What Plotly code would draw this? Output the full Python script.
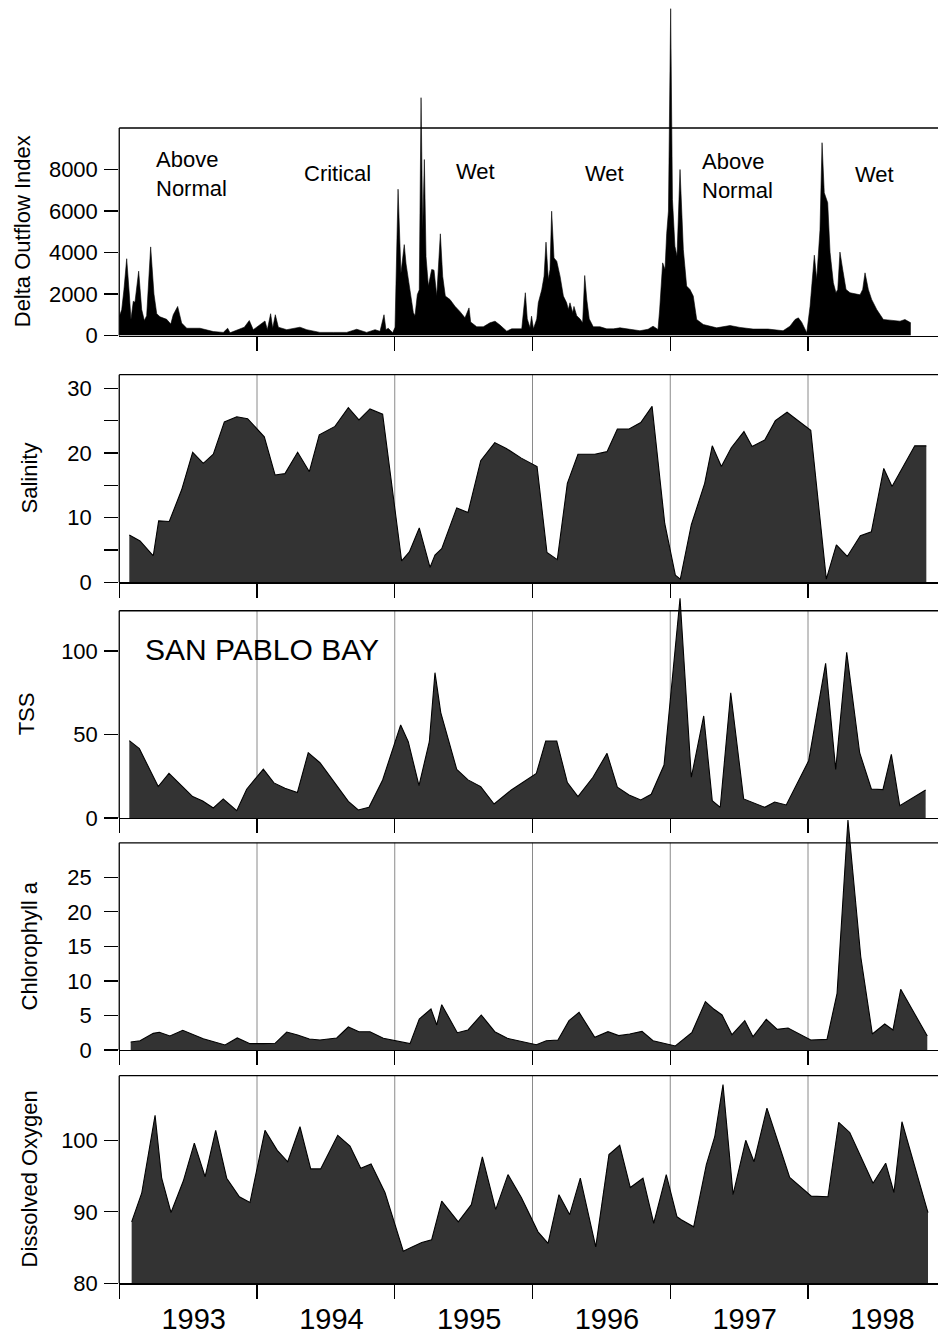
import plotly.graph_objects as go

# ---------------- data ----------------
outflow_year = [
    1993.000, 1993.018, 1993.034, 1993.054, 1993.073, 1993.085, 1993.102, 1993.114, 1993.141, 1993.163,
    1993.182, 1993.199, 1993.228, 1993.252, 1993.272, 1993.296, 1993.344, 1993.374, 1993.392, 1993.424,
    1993.453, 1993.490, 1993.586, 1993.683, 1993.755, 1993.787, 1993.804, 1993.864, 1993.908, 1993.944,
    1993.973,
    1994.058, 1994.075, 1994.099, 1994.114, 1994.133, 1994.155, 1994.216, 1994.312, 1994.361, 1994.457,
    1994.554, 1994.651, 1994.724, 1994.796, 1994.857, 1994.893, 1994.922, 1994.936, 1994.953, 1994.985,
    1995.002, 1995.024, 1995.045, 1995.069, 1995.082, 1995.111, 1995.135, 1995.147, 1995.164, 1995.178,
    1995.191, 1995.203, 1995.215, 1995.227, 1995.244, 1995.268, 1995.285, 1995.305, 1995.331, 1995.348,
    1995.367, 1995.401, 1995.437, 1995.474, 1995.510, 1995.539, 1995.551, 1995.595, 1995.643, 1995.691,
    1995.728, 1995.764, 1995.813, 1995.849, 1995.922, 1995.948, 1995.962, 1995.982, 1995.993,
    1996.007, 1996.031, 1996.042, 1996.067, 1996.084, 1996.098, 1996.115, 1996.127, 1996.139, 1996.156,
    1996.176, 1996.200, 1996.224, 1996.248, 1996.260, 1996.272, 1996.292, 1996.301, 1996.321, 1996.345,
    1996.364, 1996.379, 1996.394, 1996.412, 1996.441, 1996.490, 1996.539, 1996.587, 1996.635, 1996.708,
    1996.780, 1996.839, 1996.875, 1996.911, 1996.923, 1996.945, 1996.962, 1996.974, 1996.987,
    1997.003, 1997.016, 1997.034, 1997.049, 1997.071, 1997.095, 1997.119, 1997.143, 1997.167, 1997.192,
    1997.240, 1997.301, 1997.337, 1997.434, 1997.506, 1997.601, 1997.710, 1997.819, 1997.869, 1997.906,
    1997.930, 1997.954, 1997.966, 1997.991,
    1998.015, 1998.046, 1998.063, 1998.087, 1998.102, 1998.118, 1998.143, 1998.160, 1998.184, 1998.203,
    1998.216, 1998.232, 1998.252, 1998.276, 1998.305, 1998.341, 1998.378, 1998.397, 1998.414, 1998.438,
    1998.462, 1998.499, 1998.547, 1998.595, 1998.668, 1998.704, 1998.746,
]
outflow_index = [
    900, 1250, 2200, 3700, 2000, 770, 1650, 1600, 3100, 1250,
    720, 950, 4270, 2000, 1050, 900, 780, 550, 1000, 1400,
    600, 350, 350, 190, 150, 350, 130, 280, 400, 720,
    280,
    700, 280, 1050, 350, 1000, 400, 280, 400, 280, 150,
    150, 150, 300, 150, 280, 200, 1000, 280, 350, 130,
    400, 7050, 3000, 4380, 3450, 2200, 1100, 950, 1970, 2200,
    11460, 5100, 8480, 3800, 2380, 3180, 3150, 1900, 4900, 2850,
    1900, 1735, 1410, 1150, 850, 1330, 650, 420, 420, 610,
    690, 500, 210, 320, 320, 2060, 800, 370, 930,
    320, 800, 1575, 2200, 2860, 4500, 2700, 3180, 5990, 3740,
    3580, 2860, 1900, 1575, 1250, 1575, 1100, 1400, 950, 800,
    610, 2890, 1740, 800, 420, 420, 320, 320, 370, 310,
    230, 300, 450, 290, 1230, 3500, 3180, 4900, 6000,
    15750, 6550, 4300, 3820, 8000, 4140, 2380, 2220, 1900, 770,
    530, 450, 370, 480, 390, 310, 310, 230, 450, 770,
    850, 640, 450, 130,
    1410, 3870, 2700, 5080, 9290, 6880, 6400, 4010, 2540, 2060,
    2220, 4020, 3180, 2220, 2060, 2000, 1960, 2220, 3020, 2220,
    1740, 1250, 770, 740, 690, 770, 610,
]

salinity_year = [
    1993.073, 1993.151, 1993.247, 1993.286, 1993.363, 1993.453, 1993.533, 1993.610, 1993.683, 1993.763, 1993.853, 1993.932,
    1994.053, 1994.131, 1994.203, 1994.295, 1994.380, 1994.452, 1994.566, 1994.663, 1994.740, 1994.820, 1994.912,
    1995.050, 1995.106, 1995.178, 1995.256, 1995.292, 1995.341, 1995.450, 1995.532, 1995.624, 1995.726, 1995.810, 1995.919,
    1996.033, 1996.105, 1996.180, 1996.253, 1996.330, 1996.452, 1996.541, 1996.616, 1996.701, 1996.786, 1996.868, 1996.960,
    1997.037, 1997.073, 1997.153, 1997.250, 1997.305, 1997.371, 1997.443, 1997.535, 1997.594, 1997.686, 1997.763, 1997.848,
    1998.020, 1998.133, 1998.206, 1998.285, 1998.380, 1998.460, 1998.550, 1998.610, 1998.775, 1998.859,
]
salinity = [
    7.3, 6.4, 4.1, 9.5, 9.4, 14.3, 20.1, 18.4, 19.8, 24.8, 25.6, 25.3,
    22.5, 16.6, 16.8, 20.1, 17.1, 22.8, 24.1, 27.0, 25.1, 26.8, 26.0,
    3.3, 4.7, 8.4, 2.3, 4.2, 5.2, 11.5, 10.8, 18.8, 21.6, 20.7, 19.2,
    17.9, 4.6, 3.5, 15.3, 19.8, 19.8, 20.2, 23.7, 23.7, 24.7, 27.2, 9.1,
    1.1, 0.5, 8.9, 15.3, 21.1, 17.9, 20.8, 23.3, 21.0, 22.0, 25.0, 26.3,
    23.5, 0.5, 5.8, 4.0, 7.2, 7.8, 17.6, 14.8, 21.1, 21.1,
]

tss_year = [
    1993.073, 1993.146, 1993.283, 1993.361, 1993.533, 1993.606, 1993.683, 1993.755, 1993.853, 1993.925,
    1994.046, 1994.123, 1994.203, 1994.293, 1994.372, 1994.457, 1994.663, 1994.735, 1994.813, 1994.912,
    1995.043, 1995.098, 1995.176, 1995.251, 1995.292, 1995.334, 1995.450, 1995.532, 1995.624, 1995.721, 1995.846,
    1996.028, 1996.096, 1996.176, 1996.253, 1996.330, 1996.439, 1996.541, 1996.616, 1996.701, 1996.786, 1996.862, 1996.955,
    1997.071, 1997.153, 1997.243, 1997.305, 1997.363, 1997.439, 1997.533, 1997.686, 1997.758, 1997.842,
    1998.005, 1998.128, 1998.201, 1998.281, 1998.375, 1998.460, 1998.544, 1998.605, 1998.666, 1998.854,
]
tss = [
    46.3, 41.5, 18.8, 26.7, 12.8, 10.2, 6.0, 11.4, 4.4, 17.2,
    29.3, 21.0, 17.8, 15.2, 39.1, 33.1, 10.0, 4.8, 6.4, 22.8,
    55.7, 45.7, 19.4, 45.7, 87.0, 63.1, 29.1, 22.8, 18.8, 8.4, 16.8,
    26.7, 46.1, 46.1, 21.2, 12.8, 24.4, 38.7, 18.4, 13.8, 10.8, 14.2, 31.7,
    131.5, 24.4, 61.1, 10.4, 6.4, 75.0, 11.4, 6.4, 9.6, 7.8,
    34.3, 92.6, 29.1, 99.2, 39.1, 17.4, 17.0, 38.1, 7.4, 16.8,
]

chl_year = [
    1993.083, 1993.151, 1993.247, 1993.291, 1993.368, 1993.461, 1993.610, 1993.768, 1993.857, 1993.949,
    1994.046, 1994.131, 1994.216, 1994.295, 1994.380, 1994.457, 1994.579, 1994.663, 1994.740, 1994.820, 1994.917,
    1995.014, 1995.111, 1995.178, 1995.263, 1995.305, 1995.341, 1995.454, 1995.532, 1995.628, 1995.726, 1995.817,
    1996.028, 1996.100, 1996.185, 1996.265, 1996.338, 1996.452, 1996.548, 1996.626, 1996.706, 1996.795, 1996.875,
    1997.037, 1997.158, 1997.255, 1997.318, 1997.376, 1997.448, 1997.541, 1997.601, 1997.697, 1997.777, 1997.855,
    1998.020, 1998.138, 1998.211, 1998.290, 1998.383, 1998.467, 1998.557, 1998.617, 1998.673, 1998.866,
]
chlorophyll = [
    1.16, 1.35, 2.41, 2.56, 2.03, 2.85, 1.64, 0.72, 1.74, 0.92,
    0.92, 0.97, 2.6, 2.17, 1.59, 1.45, 1.74, 3.33, 2.65, 2.65, 1.69,
    1.35, 0.92, 4.49, 5.94, 3.62, 6.56, 2.51, 2.9, 5.07, 2.65, 1.69,
    0.77, 1.35, 1.45, 4.25, 5.45, 1.83, 2.65, 2.08, 2.32, 2.7, 1.35,
    0.58, 2.56, 7.0, 5.89, 5.07, 2.22, 4.25, 1.93, 4.44, 2.99, 3.19,
    1.45, 1.54, 8.2, 33.3, 13.5, 2.32, 3.76, 2.9, 8.78, 2.03,
]

do_year = [
    1993.090, 1993.163, 1993.260, 1993.308, 1993.376, 1993.465, 1993.545, 1993.623, 1993.700, 1993.780, 1993.872, 1993.949,
    1994.058, 1994.147, 1994.223, 1994.312, 1994.390, 1994.462, 1994.586, 1994.675, 1994.753, 1994.828, 1994.929,
    1995.062, 1995.118, 1995.196, 1995.268, 1995.341, 1995.461, 1995.556, 1995.636, 1995.733, 1995.822, 1995.919,
    1996.040, 1996.113, 1996.192, 1996.270, 1996.347, 1996.459, 1996.555, 1996.633, 1996.710, 1996.802, 1996.880, 1996.971,
    1997.049, 1997.080, 1997.170, 1997.262, 1997.323, 1997.383, 1997.456, 1997.548, 1997.608, 1997.702, 1997.782, 1997.867,
    1998.024, 1998.145, 1998.223, 1998.303, 1998.472, 1998.564, 1998.624, 1998.682, 1998.871,
]
dissolved_oxygen = [
    88.6, 92.6, 103.5, 94.7, 89.9, 94.3, 99.6, 94.9, 101.4, 94.7, 92.1, 91.3,
    101.4, 98.6, 97.0, 101.9, 96.0, 96.0, 100.7, 99.2, 96.1, 96.7, 92.7,
    84.5, 85.0, 85.7, 86.1, 91.5, 88.6, 91.0, 97.7, 90.3, 95.2, 92.0,
    87.2, 85.6, 92.4, 89.6, 94.7, 85.1, 98.0, 99.3, 93.4, 94.7, 88.4, 95.2,
    89.3, 88.9, 87.9, 96.6, 100.5, 107.8, 92.4, 100.0, 97.0, 104.5, 99.8, 94.8,
    92.2, 92.1, 102.5, 101.1, 94.0, 96.8, 92.7, 102.6, 89.9,
]

years = [1993, 1994, 1995, 1996, 1997, 1998]
year_labels = ["1993", "1994", "1995", "1996", "1997", "1998"]

# water-year classification labels in the outflow panel (text, left x in years, y in outflow units)
wy_text = ["Above<br>Normal", "Critical", "Wet", "Wet", "Above<br>Normal", "Wet"]
wy_x = [1993.252, 1994.327, 1995.430, 1996.367, 1997.216, 1998.327]
wy_y = [7780, 7830, 7880, 7830, 7690, 7735]

for a, b in [(outflow_year, outflow_index), (salinity_year, salinity), (tss_year, tss),
             (chl_year, chlorophyll), (do_year, dissolved_oxygen)]:
    assert len(a) == len(b), (len(a), len(b))

# ---------------- layout ----------------
# the page body margin is removed (post_script), so the figure fills the window exactly
OFF = 0
W, H = 938, 1335
FONT = "Liberation Sans, Arial, Helvetica, sans-serif"
LW = 1.3


def px_x(px):
    return (px - OFF) / W


def dom(py_bottom, py_top):
    return [1 - (py_bottom - OFF) / H, min(1.0, 1 - (py_top - OFF) / H)]


XDOM = [px_x(119.25), 1.0]
XR = [1993.0, 1993.0 + (938 - 119.25) / 137.75]

panels = [
    dict(x=outflow_year, y=outflow_index, dom=dom(335.5, 3), rng=[0, (335.5 - 3) / 0.02075], top=10000,
         yt=[0, 2000, 4000, 6000, 8000], minor=None, fill="#000000", lw=0.6,
         title="Delta Outflow Index", tx=22.5, standoff=2, xt=years[1:], grid=False),
    dict(x=salinity_year, y=salinity, dom=dom(582.3, 374.7), rng=[0, 32.1], top=32.1,
         yt=[0, 10, 20, 30], minor=[5, 15, 25], fill="#333333", lw=1.1,
         title="Salinity", tx=29, standoff=8, xt=years, grid=True),
    dict(x=tss_year, y=tss, dom=dom(818, 594.2), rng=[0, 134], top=124.1,
         yt=[0, 50, 100], minor=None, fill="#333333", lw=1.1,
         title="TSS", tx=26, standoff=2, xt=years, grid=True),
    dict(x=chl_year, y=chlorophyll, dom=dom(1050, 818.6), rng=[0, 33.5], top=30,
         yt=[0, 5, 10, 15, 20, 25], minor=None, fill="#333333", lw=1.1,
         title="Chlorophyll a", tx=29, standoff=8, xt=years, grid=True),
    dict(x=do_year, y=dissolved_oxygen, dom=dom(1283.3, 1075.7), rng=[80, 109.04], top=109.04,
         yt=[80, 90, 100], minor=None, fill="#333333", lw=1.1,
         title="Dissolved Oxygen", tx=29, standoff=2, xt=years, grid=True),
]


def to_paper(d, rng, v):
    return d[0] + (v - rng[0]) / (rng[1] - rng[0]) * (d[1] - d[0])


fig = go.Figure()
layout = dict(
    width=W, height=H, autosize=False,
    margin=dict(l=0, r=0, t=0, b=0, pad=0),
    paper_bgcolor="white", plot_bgcolor="rgba(0,0,0,0)",
    font=dict(family=FONT, color="black", size=22),
    showlegend=False, template="none",
)
shapes = []
annotations = []

for i, p in enumerate(panels, start=1):
    sx = "" if i == 1 else str(i)
    xname, yname = "x" + sx, "y" + sx
    fig.add_trace(go.Scatter(
        x=p["x"], y=p["y"], xaxis=xname, yaxis=yname, mode="lines",
        line=dict(color="black", width=p["lw"]), fill="tozeroy", fillcolor=p["fill"],
        hoverinfo="skip",
    ))
    xa = dict(domain=XDOM, range=XR, anchor=yname, showline=True, linecolor="black",
              linewidth=LW, ticks="outside", tickmode="array", tickvals=p["xt"], ticklen=14,
              tickwidth=LW, tickcolor="black", showticklabels=False, showgrid=False,
              zeroline=False)
    if i == 5:
        xa.update(tickvals=[y + 0.54 for y in years], ticktext=year_labels, ticks="",
                  showticklabels=True, tickfont=dict(size=29, color="black"),
                  ticklabelstandoff=10,
                  minor=dict(tickmode="array", tickvals=years, ticks="outside", ticklen=14,
                             tickwidth=LW, tickcolor="black", showgrid=False))
    ya = dict(domain=p["dom"], range=p["rng"], anchor=xname, showline=False,
              ticks="outside", ticklen=14, tickwidth=LW, tickcolor="black",
              tickmode="array", tickvals=p["yt"], tickfont=dict(size=22, color="black"),
              ticklabelstandoff=p["standoff"], showgrid=False, zeroline=False)
    if p["minor"]:
        ya["minor"] = dict(tickmode="array", tickvals=p["minor"], ticks="outside", ticklen=14,
                           tickwidth=LW, tickcolor="black", showgrid=False)
    layout["xaxis" + sx] = xa
    layout["yaxis" + sx] = ya

    # frame: top and left lines (paper coords derived from axis geometry)
    ytop = to_paper(p["dom"], p["rng"], p["top"])
    ybot = p["dom"][0]
    shapes.append(dict(type="line", xref="paper", yref="paper", x0=XDOM[0], x1=XDOM[1],
                       y0=ytop, y1=ytop, line=dict(color="black", width=LW), layer="above"))
    shapes.append(dict(type="line", xref="paper", yref="paper", x0=XDOM[0], x1=XDOM[0],
                       y0=ybot, y1=ytop, line=dict(color="black", width=LW), layer="above"))
    # year separators
    if p["grid"]:
        for yb in years[1:]:
            shapes.append(dict(type="line", xref=xname, yref=yname, x0=yb, x1=yb,
                               y0=p["rng"][0], y1=p["top"],
                               line=dict(color="#8a8a8a", width=1), layer="below"))
    # axis title
    annotations.append(dict(text=p["title"], xref="paper", yref="paper",
                            x=px_x(p["tx"]), y=(ybot + ytop) / 2, textangle=-90,
                            xanchor="center", yanchor="middle", showarrow=False,
                            font=dict(size=22, color="black", family=FONT)))

for t, xv, yv in zip(wy_text, wy_x, wy_y):
    annotations.append(dict(text=t, xref="x", yref="y", x=xv, y=yv, xanchor="left",
                            yanchor="middle", align="left", showarrow=False,
                            font=dict(size=22, color="black", family=FONT)))

annotations.append(dict(text="SAN PABLO BAY", xref="x3", yref="y3", x=1993.173, y=100.6,
                        xanchor="left", yanchor="middle", showarrow=False,
                        font=dict(size=30, color="black", family=FONT)))

layout["shapes"] = shapes
layout["annotations"] = annotations
fig.update_layout(**layout)
fig.write_html(
    "out.html",
    config={"displayModeBar": False, "staticPlot": True},
    post_script=(
        "document.documentElement.style.margin='0';document.documentElement.style.padding='0';"
        "document.body.style.margin='0';document.body.style.padding='0';"
        "document.documentElement.style.overflow='hidden';document.body.style.overflow='hidden';"
    ),
)
